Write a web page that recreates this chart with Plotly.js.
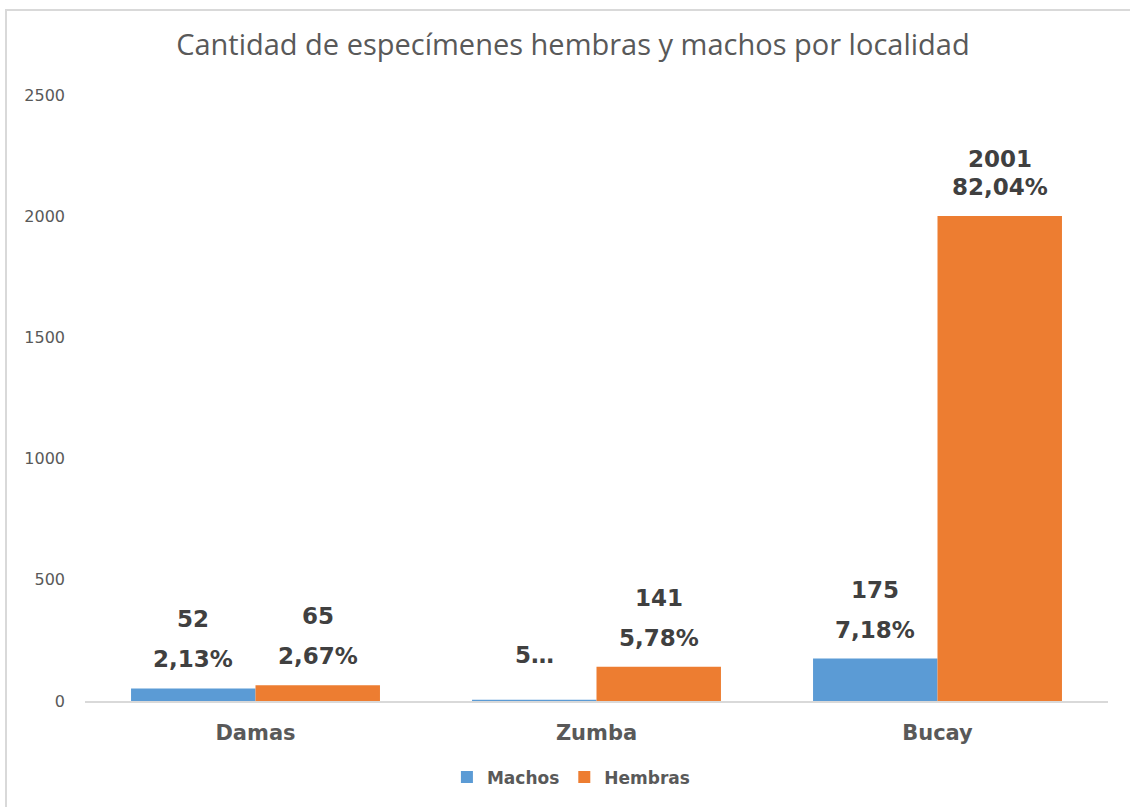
<!DOCTYPE html>
<html>
<head>
<meta charset="utf-8">
<script src="https://cdn.plot.ly/plotly-3.0.1.min.js"></script>
<style>
  html, body { margin: 0; padding: 0; background: #fff; }
  #frame { position: absolute; left: 5px; top: 9px; width: 1200px; height: 900px;
           border-left: 2px solid #d9d9d9; border-top: 2px solid #d9d9d9; pointer-events: none; z-index: 5; }
  #chart { position: absolute; left: 0; top: 0; width: 1130px; height: 807px; }
</style>
</head>
<body>
<div id="chart"></div>
<div id="frame"></div>
<script>
// ---- data ----
const categories = ["Damas", "Zumba", "Bucay"];
const machos = [52, 5, 175];
const hembras = [65, 141, 2001];
const machosValueText = ["52", "5…", "175"];
const machosPctText = ["2,13%", "", "7,18%"];
const hembrasValueText = ["65", "141", "2001"];
const hembrasPctText = ["2,67%", "5,78%", "82,04%"];
const yTicks = [0, 500, 1000, 1500, 2000, 2500];

const colMachos = "#5B9BD5";
const colHembras = "#ED7D31";
const labelFont = {family: "DejaVu Sans", size: 23, color: "#404040", weight: "bold"};

const bargap = 0.27;
const halfOffset = (1 - bargap) / 4;

function labels(values, valueText, pctText, offset) {
  const out = [];
  values.forEach((v, i) => {
    const x = i + offset;
    if (pctText[i]) {
      const compact = v > 1000;
      out.push({x: x, y: v, xref: "x", yref: "y", text: "<b>" + pctText[i] + "</b>", showarrow: false,
                yanchor: "middle", yshift: 29, font: labelFont});
      out.push({x: x, y: v, xref: "x", yref: "y", text: "<b>" + valueText[i] + "</b>", showarrow: false,
                yanchor: "middle", yshift: compact ? 57 : 69, font: labelFont});
    } else {
      out.push({x: x, y: v, xref: "x", yref: "y", text: "<b>" + valueText[i] + "</b>", showarrow: false,
                yanchor: "middle", yshift: 45, font: labelFont});
    }
  });
  return out;
}

const traces = [
  {type: "bar", name: "Machos", x: categories, y: machos, marker: {color: colMachos, line: {width: 0}}, hoverinfo: "none"},
  {type: "bar", name: "Hembras", x: categories, y: hembras, marker: {color: colHembras, line: {width: 0}}, hoverinfo: "none"}
];

const layout = {
  width: 1130, height: 807,
  margin: {l: 85, r: 22, t: 95, b: 103},
  paper_bgcolor: "#fff", plot_bgcolor: "#fff",
  barmode: "group", bargap: bargap, bargroupgap: 0,
  title: {text: "Cantidad de especímenes hembras y machos por localidad",
          font: {family: "Open Sans", size: 29, color: "#595959"},
          x: 0.507, xref: "container", xanchor: "center", y: 0.944, yref: "container", yanchor: "middle"},
  xaxis: {type: "category", showline: true, linecolor: "#d9d9d9", linewidth: 2, showgrid: false, zeroline: false,
          ticks: "", ticklabelstandoff: 12,
          tickfont: {family: "DejaVu Sans", size: 21, color: "#595959", weight: "bold"}},
  yaxis: {range: [0, 2500], tickvals: yTicks, showgrid: false, zeroline: false, showline: false, ticks: "",
          ticklabelstandoff: 19,
          tickfont: {family: "DejaVu Sans", size: 16, color: "#595959"}},
  showlegend: true,
  legend: {orientation: "h", x: 0.475, xanchor: "center", y: -0.126, yanchor: "middle",
           font: {family: "DejaVu Sans", size: 17, color: "#595959", weight: "bold"}, itemwidth: 30},
  annotations: labels(machos, machosValueText, machosPctText, -halfOffset)
    .concat(labels(hembras, hembrasValueText, hembrasPctText, halfOffset))
};

Plotly.newPlot("chart", traces, layout, {displayModeBar: false, staticPlot: true});
</script>
</body>
</html>
